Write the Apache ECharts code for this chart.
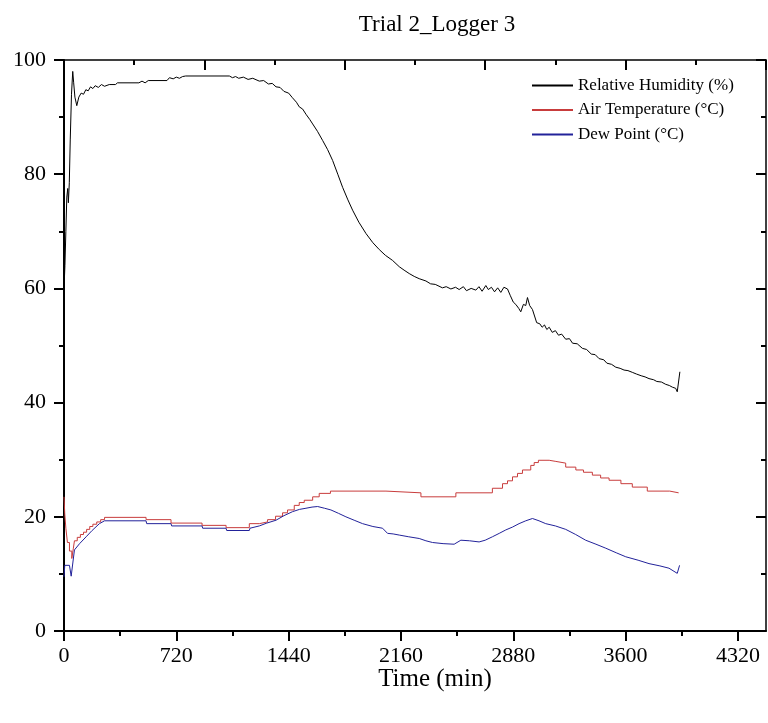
<!DOCTYPE html>
<html>
<head>
<meta charset="utf-8">
<script src="https://cdn.jsdelivr.net/npm/echarts@6/dist/echarts.min.js"></script>
<style>
html,body{margin:0;padding:0;background:#fff;}
#chart{width:768px;height:723px;}
</style>
</head>
<body>
<div id="chart"></div>
<script>
const xMajorTicks = [0, 720, 1440, 2160, 2880, 3600, 4320];
const xMinorTicks = [360, 1080, 1800, 2520, 3240, 3960];

const rhTime = [0,6,12,18,24,28,34,40,48,56,62,70,82,95,110,125,140,155,170,185,200,220,240,260,290,330,343,480,500,520,540,660,676,700,720,740,760,780,1060,1080,1100,1120,1150,1180,1210,1252,1280,1310,1335,1359,1385,1410,1440,1464,1490,1508,1530,1551,1575,1594,1625,1658,1690,1722,1755,1786,1820,1850,1890,1936,1980,2021,2060,2106,2149,2180,2213,2245,2277,2320,2350,2380,2426,2450,2480,2510,2533,2560,2580,2610,2640,2660,2680,2704,2720,2740,2760,2780,2800,2820,2843,2860,2880,2896,2915,2928,2945,2960,2971,2985,3003,3015,3030,3050,3065,3080,3095,3110,3130,3150,3170,3190,3216,3240,3260,3290,3323,3350,3380,3405,3430,3460,3480,3510,3537,3565,3590,3615,3643,3670,3700,3725,3750,3780,3800,3830,3857,3880,3900,3921,3931,3948];
const rhValue = [60.0,64,70,76,77.5,75.0,78.5,86,94,98.0,96,93.5,92.0,93.5,94.2,94.0,94.8,94.6,95.3,95.0,95.5,95.2,95.7,95.4,95.7,95.7,96.0,96.0,96.3,96.0,96.4,96.4,96.9,96.7,97.0,96.8,97.1,97.2,97.2,96.9,97.1,96.8,97.0,96.6,96.8,96.3,96.4,95.8,95.9,95.3,95.2,94.5,94.2,93.4,92.6,91.8,91.4,90.5,89.6,88.8,87.5,85.9,84.3,82.4,80.0,77.7,75.5,73.7,71.6,69.6,68.0,66.8,65.8,64.9,63.8,63.2,62.6,62.1,61.7,61.3,60.8,60.7,60.1,60.3,59.9,60.2,59.8,60.3,59.6,60.0,59.7,60.3,59.5,60.5,59.8,60.2,59.4,60.1,59.3,60.2,59.9,58.8,57.6,57.2,56.5,55.9,57.2,57.0,58.4,57.0,56.3,56.0,54.0,53.8,53.2,53.6,52.8,53.2,52.3,52.6,51.8,52.0,51.1,51.2,50.4,50.3,49.5,49.3,48.5,48.4,47.7,47.5,46.9,46.7,46.2,46.0,45.7,45.6,45.3,45.0,44.7,44.5,44.2,44.0,43.7,43.6,43.2,43.0,42.7,42.5,41.9,45.4];

const tempTime = [0,5,12,22,35,50,60,67,85,105,125,145,165,185,210,235,260,526,686,885,1039,1188,1252,1305,1356,1401,1433,1476,1508,1540,1594,1636,1708,2064,2288,2512,2746,2811,2843,2875,2907,2939,2992,3014,3041,3110,3153,3216,3281,3330,3387,3440,3494,3570,3643,3739,3883,3940];
const tempValue = [23.5,20.5,18.0,15.5,14.0,12.7,14.5,15.8,16.4,16.9,17.3,17.8,18.3,18.7,19.1,19.5,19.9,19.5,18.9,18.5,18.1,18.8,19.1,19.5,20.1,20.7,21.2,22.0,22.5,22.9,23.5,24.1,24.5,24.2,23.5,24.2,25.0,25.8,26.3,27.0,27.6,28.2,29.0,29.5,29.9,29.7,29.4,28.7,28.2,27.8,27.3,26.8,26.4,25.8,25.2,24.5,24.2,24.1];

const dewTime = [0,5,35,46,67,100,142,180,227,260,526,530,686,690,885,889,1039,1043,1188,1192,1252,1300,1359,1410,1465,1510,1551,1590,1626,1670,1711,1760,1807,1860,1914,1980,2042,2074,2110,2149,2210,2277,2320,2362,2430,2501,2544,2600,2661,2700,2746,2790,2832,2875,2917,2960,3003,3045,3088,3150,3216,3280,3344,3410,3473,3540,3601,3680,3750,3820,3878,3931,3946];
const dewValue = [9.5,11.5,11.5,9.6,14.2,15.3,16.5,17.6,18.8,19.3,19.3,18.8,18.8,18.4,18.4,18.0,18.0,17.6,17.6,18.0,18.4,18.9,19.4,20.2,20.9,21.3,21.5,21.7,21.8,21.5,21.2,20.6,20.0,19.4,18.8,18.3,18.0,17.1,17.0,16.8,16.5,16.2,15.8,15.5,15.3,15.2,15.9,15.8,15.6,15.9,16.5,17.1,17.7,18.2,18.8,19.3,19.7,19.3,18.8,18.4,17.8,16.9,15.9,15.2,14.5,13.7,13.0,12.4,11.8,11.4,11.0,10.1,11.5];

const pairs = (t, v) => t.map((x, i) => [x, v[i]]);
const FONT = "'Liberation Serif','Times New Roman',serif";
const plain = v => String(v);

const chart = echarts.init(document.getElementById('chart'), null, {renderer: 'canvas'});
const axisLineStyle = {color: '#000', width: 2};
chart.setOption({
  animation: false,
  backgroundColor: '#fff',
  title: [
    {text: 'Trial 2_Logger 3', left: 432, top: 8, textAlign: 'center',
     textStyle: {fontFamily: FONT, fontSize: 23, fontWeight: 'normal', color: '#000'}},
    {text: 'Time (min)', left: 430, top: 662, textAlign: 'center',
     textStyle: {fontFamily: FONT, fontSize: 25, fontWeight: 'normal', color: '#000'}}
  ],
  legend: {
    orient: 'vertical', left: 527, top: 72, itemWidth: 41, itemHeight: 2, itemGap: 7.5,
    icon: 'rect',
    textStyle: {fontFamily: FONT, fontSize: 17, color: '#000', lineHeight: 17},
    data: ['Relative Humidity (%)', 'Air Temperature (°C)', 'Dew Point (°C)']
  },
  grid: {left: 64, top: 60, width: 702, height: 571, containLabel: false},
  xAxis: [
    {type: 'value', position: 'bottom', min: 0, max: 4500,
     axisLine: {show: true, onZero: false, lineStyle: axisLineStyle},
     axisTick: {show: true, customValues: xMajorTicks, length: 10, lineStyle: {color: '#000', width: 2}},
     axisLabel: {show: true, customValues: xMajorTicks, formatter: plain, margin: 14, fontFamily: FONT, fontSize: 22, color: '#000'},
     splitLine: {show: false}},
    {type: 'value', position: 'bottom', min: 0, max: 4500,
     axisLine: {show: false, onZero: false},
     axisTick: {show: true, customValues: xMinorTicks, length: 5, lineStyle: {color: '#000', width: 2}},
     axisLabel: {show: false}, splitLine: {show: false}},
    {type: 'value', position: 'top', min: 0, max: 4500, interval: 900,
     axisLine: {show: true, onZero: false, lineStyle: {color: '#000', width: 1.5}},
     axisTick: {show: true, inside: true, length: 10, lineStyle: {color: '#000', width: 2}},
     minorTick: {show: true, splitNumber: 2, length: 5, lineStyle: {color: '#000', width: 2}},
     axisLabel: {show: false}, splitLine: {show: false}}
  ],
  yAxis: [
    {type: 'value', position: 'left', min: 0, max: 100, interval: 20,
     axisLine: {show: true, onZero: false, lineStyle: axisLineStyle},
     axisTick: {show: true, length: 10, lineStyle: {color: '#000', width: 2}},
     minorTick: {show: true, splitNumber: 2, length: 5, lineStyle: {color: '#000', width: 2}},
     axisLabel: {margin: 18, formatter: plain, fontFamily: FONT, fontSize: 22, color: '#000'},
     splitLine: {show: false}},
    {type: 'value', position: 'right', min: 0, max: 100, interval: 20,
     axisLine: {show: true, onZero: false, lineStyle: {color: '#000', width: 1.5}},
     axisTick: {show: true, inside: true, length: 10, lineStyle: {color: '#000', width: 2}},
     minorTick: {show: true, splitNumber: 2, length: 5, lineStyle: {color: '#000', width: 2}},
     axisLabel: {show: false}, splitLine: {show: false}}
  ],
  series: [
    {name: 'Relative Humidity (%)', type: 'line', data: pairs(rhTime, rhValue),
     showSymbol: false, symbol: 'none', color: '#000', lineStyle: {width: 1, color: '#000'}},
    {name: 'Air Temperature (°C)', type: 'line', step: 'end', data: pairs(tempTime, tempValue),
     showSymbol: false, symbol: 'none', color: '#c83c3c', lineStyle: {width: 1, color: '#c83c3c'}},
    {name: 'Dew Point (°C)', type: 'line', data: pairs(dewTime, dewValue),
     showSymbol: false, symbol: 'none', color: '#22229a', lineStyle: {width: 1, color: '#22229a'}}
  ]
});
</script>
</body>
</html>
